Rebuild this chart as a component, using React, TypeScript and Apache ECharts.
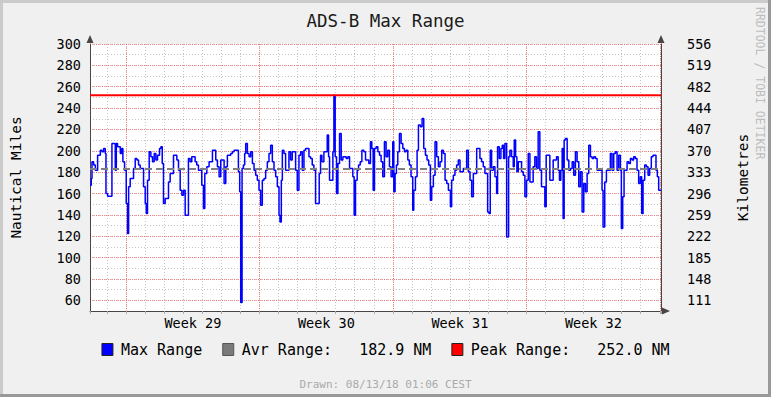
import React, { useEffect, useRef } from 'react';
import * as echarts from 'echarts';

const FONT = '"DejaVu Sans Mono", "Liberation Mono", monospace';

// x values: hours relative to Monday 2018-07-16 00:00 (start of ISO week 29)
const xStartHours = -45.2;
const xEndHours = 673.5;
const hoursPerDay = 24;
const hoursPerWeek = 168;
const weekNumbers = [29, 30, 31, 32];

const yMinNm = 50;
const yMaxNm = 300;
const nmToKm = 1.852;

const avgRangeNm = 182.9;
const peakRangeNm = 252.0;

const titleText = 'ADS-B Max Range';
const drawnText = 'Drawn: 08/13/18 01:06 CEST';
const watermarkText = 'RRDTOOL / TOBI OETIKER';
const seriesNames = ['Max Range', 'Avr Range:   182.9 NM', 'Peak Range:   252.0 NM'];

// [hours since week 29 start, max range in nautical miles]
const maxRangeSamples: [number, number][] = [
  [-45.2, 167.8], [-43.6, 174.1], [-42.7, 189.7], [-40.6, 186.6], [-38.5, 181.9], [-35.6, 195.9],
  [-32.2, 200.6], [-30.2, 199.1], [-28.1, 202.2], [-26.0, 197.5], [-25.1, 160], [-23.0, 157.5],
  [-17.6, 206.9], [-13.4, 181.9], [-12.1, 206.9], [-10.5, 203.8], [-7.1, 197.5], [-5.4, 202.2],
  [-3.8, 189.7], [-1.7, 181.9], [0.4, 150.7], [2.1, 122.5], [3.4, 166.3], [5.4, 174.1],
  [9.6, 183.5], [11.7, 192.8], [13.8, 191.3], [15.9, 186.6], [18.0, 183.5], [22.2, 166.3],
  [24.3, 150.7], [25.6, 141.3], [27.2, 172.5], [29.3, 199.1], [31.4, 194.4], [33.5, 189.7],
  [35.6, 197.5], [37.7, 191.3], [39.8, 195.9], [42.3, 202.2], [44.0, 203.8], [45.7, 188.2],
  [47.3, 150.7], [49.4, 155.3], [53.6, 170.9], [55.7, 178.8], [59.9, 195.9], [64.1, 191.3],
  [66.2, 181.9], [68.3, 163.1], [70.4, 158.4], [72.5, 163.1], [74.6, 139.7], [78.7, 192.8],
  [80.8, 189.7], [82.9, 194.4], [87.1, 189.7], [89.2, 186.6], [91.3, 181.9], [95.5, 167.8],
  [97.6, 146],
  [99.3, 178.8], [101.8, 185], [104.7, 189.7], [108.9, 200.6], [113.1, 191.3], [115.2, 185],
  [117.3, 175.6], [119.4, 191.3], [123.6, 169.4], [125.7, 185], [127.7, 195.9], [131.9, 197.5],
  [134.0, 199.1], [136.1, 200.6], [141.6, 180.3], [143.2, 161.6], [144.5, 58], [146.2, 183.5],
  [147.9, 186.6], [149.5, 197.5], [150.8, 206.9], [152.9, 197.5], [155.0, 194.4], [157.1, 199.1],
  [159.2, 188.2], [161.3, 181.9], [163.3, 177.2], [165.4, 172.5], [167.5, 163.1], [169.6, 149.1],
  [171.7, 172.5], [173.8, 174.1], [175.9, 181.9], [178.0, 189.7], [180.1, 197.5], [182.2, 205.3],
  [184.3, 189.7], [186.4, 181.9], [188.5, 175.6], [190.6, 166.3], [192.7, 139.7], [193.9, 133.4],
  [195.6, 172.5], [196.9, 200.6], [198.9, 197.5], [201.0, 181.9], [205.2, 199.1], [207.3, 191.3],
  [209.4, 199.1], [213.6, 181.9], [215.7, 163.1], [217.8, 195.9], [219.9, 199.1], [222.0, 181.9],
  [224.1, 200.6], [226.2, 202.2], [230.4, 194.4], [232.4, 192.8], [234.5, 186.6], [236.6, 181.9],
  [238.7, 150.7],
  [243.3, 178.8], [245.0, 195.9], [246.7, 189.7], [249.2, 199.1], [253.4, 214.7], [255.1, 194.4],
  [256.3, 172.5], [260.5, 199.1], [261.8, 252.0], [263.4, 194.4], [265.1, 160], [266.8, 188.2],
  [268.9, 216.3], [271.0, 191.3], [273.1, 194.4], [277.3, 192.8], [279.4, 194.4], [281.5, 183.5],
  [285.6, 175.6], [287.3, 139.7], [289.0, 172.5], [291.1, 181.9], [292.8, 186.6], [294.9, 189.7],
  [297.0, 200.6], [299.5, 199.1], [301.6, 191.3], [305.7, 188.2], [307.8, 208.4], [309.5, 202.2],
  [311.2, 163.1], [312.9, 202.2], [315.0, 203.8], [317.1, 199.1], [319.2, 195.9], [321.2, 189.7],
  [323.3, 175.6], [325.4, 208.4], [327.5, 194.4], [329.6, 200.6], [331.7, 185], [333.8, 175.6],
  [335.9, 208.4], [337.2, 161.6], [338.8, 178.8], [340.5, 186.6], [342.2, 199.1], [344.3, 216.3],
  [346.4, 206.9], [348.5, 202.2], [350.6, 199.1], [352.7, 200.6], [354.8, 191.3], [356.8, 186.6],
  [358.9, 175.6], [361.0, 144.4], [362.3, 163.1], [364.4, 175.6], [366.5, 200.6], [368.2, 224.1],
  [370.7, 222.5], [372.8, 230.3], [374.9, 202.2], [377.0, 195.9], [379.0, 191.3], [381.1, 186.6],
  [383.2, 153.8],
  [384.9, 166.3], [387.0, 177.2], [389.1, 208.4], [391.2, 194.4], [393.3, 185], [395.4, 189.7],
  [397.5, 200.6], [399.6, 197.5], [401.7, 172.5], [403.8, 169.4], [405.9, 163.1], [408.4, 147.5],
  [410.0, 172.5], [412.1, 177.2], [414.2, 181.9], [416.3, 186.6], [418.4, 191.3], [420.5, 180.3],
  [424.7, 183.5], [428.9, 200.6], [431.0, 180.3], [433.1, 172.5], [435.2, 156.9], [437.3, 178.8],
  [441.5, 202.2], [445.6, 192.8], [447.7, 189.7], [449.8, 185], [451.9, 178.8], [455.3, 142.8],
  [457.0, 141.3], [458.6, 200.6], [460.3, 181.9], [462.4, 185], [464.5, 175.6], [466.6, 160],
  [467.8, 203.8], [469.9, 192.8], [472.0, 202.2], [473.7, 205.3], [475.4, 192.8], [477.0, 206.9],
  [479.2, 119.4], [480.4, 119.4], [481.7, 194.4], [483.3, 200.6], [485.4, 194.4], [487.5, 185],
  [488.8, 210], [490.5, 194.4], [492.1, 180.3], [493.8, 189.7], [498.0, 180.3], [500.1, 177.2],
  [502.2, 156.9], [504.3, 172.5], [506.4, 197.5], [508.5, 170.9], [512.6, 185], [514.7, 194.4],
  [516.8, 183.5], [518.9, 217.8], [521.0, 181.9], [523.1, 166.3], [527.3, 147.5],
  [529.0, 195.9], [533.6, 172.5], [537.8, 191.3], [542.0, 194.4], [544.1, 181.9], [545.7, 172.5],
  [547.4, 181.9], [549.1, 202.2], [550.3, 136.6], [551.6, 210], [553.3, 211.6], [555.4, 191.3],
  [557.5, 181.9], [559.6, 183.5], [561.7, 189.7], [563.7, 177.2], [565.8, 199.1], [567.9, 189.7],
  [570.0, 166.3], [572.1, 180.3], [574.2, 142.8], [576.3, 169.4], [578.4, 161.6], [580.5, 178.8],
  [582.6, 205.3], [584.7, 194.4], [586.8, 192.8], [588.9, 194.4], [591.0, 192.8], [593.1, 181.9],
  [599.3, 163.1], [600.6, 128.7], [602.7, 170.9], [604.8, 181.9], [609.8, 197.5], [611.9, 181.9],
  [614.0, 197.5], [616.1, 199.1], [618.2, 181.9], [620.3, 195.9], [622.4, 181.9], [623.6, 127.2],
  [625.3, 156.9], [627.0, 181.9], [630.8, 189.7], [632.9, 188.2], [635.0, 192.8], [637.1, 191.3],
  [639.1, 194.4], [641.2, 192.8], [643.3, 181.9], [645.4, 169.4], [647.5, 175.6], [649.2, 141.3],
  [650.9, 172.5], [653.0, 186.6], [655.1, 185], [657.2, 177.2], [659.2, 183.5], [661.3, 194.4],
  [663.4, 195.9], [667.2, 181.9], [668.9, 175.6], [670.6, 163.1], [673.5, 163.1],
];

const GRID_MINOR = 'rgba(140,140,140,0.5)';
const GRID_MAJOR = 'rgba(255,40,40,0.5)';
const NONE = 'rgba(0,0,0,0)';
const AXIS_COLOR = '#4a4444';

// split-line colour lists; the axis boundaries (non-nice min/max) get an invisible line
function lineColors(count: number, color: string, hideFirst: boolean, hideLast: boolean) {
  return Array.from({ length: count }, (_, i) =>
    (hideFirst && i === 0) || (hideLast && i === count - 1) ? NONE : color,
  );
}

export default function App() {
  const ref = useRef<HTMLDivElement>(null);

  useEffect(() => {
    document.body.style.margin = '0';
    if (!ref.current) return;
    const chart = echarts.init(ref.current, undefined, { renderer: 'svg' });

    const dayTicks = Math.floor(xEndHours / hoursPerDay) - Math.ceil(xStartHours / hoursPerDay) + 1;
    const weekTicks = Math.floor(xEndHours / hoursPerWeek) - Math.ceil(xStartHours / hoursPerWeek) + 1;
    const kmTicks = Math.floor(yMaxNm / 20) - Math.ceil(yMinNm / 20) + 1;
    const nmTicks = Math.floor(yMaxNm / 10) - Math.ceil(yMinNm / 10) + 1;

    // frame axis: the plot border line with an arrow head at its end
    const frameAxisLine = {
      show: true,
      onZero: false,
      symbol: ['none', 'triangle'],
      symbolSize: [7, 8],
      symbolOffset: [0, 5],
      lineStyle: { color: AXIS_COLOR, width: 1 },
    };
    const hiddenAxisLine = { show: false, onZero: false };
    const bare = { axisTick: { show: false }, axisLabel: { show: false }, splitLine: { show: false } };
    const tickLabel = { fontFamily: FONT, fontSize: 13.5, color: '#000' };
    const xRange = { type: 'value', position: 'bottom', min: xStartHours, max: xEndHours };
    const yRange = { type: 'value', min: yMinNm, max: yMaxNm };

    const option: any = {
      animation: false,
      backgroundColor: '#f0f0f0',
      title: [
        {
          text: titleText,
          left: 'center',
          top: 7,
          textStyle: { fontFamily: FONT, fontSize: 17.5, fontWeight: 'normal', color: '#1a1a1a' },
        },
        {
          text: drawnText,
          left: 'center',
          top: 374,
          textStyle: { fontFamily: FONT, fontSize: 11, fontWeight: 'normal', color: '#aaaaaa' },
        },
      ],
      grid: {
        left: 89,
        right: 110,
        top: 44,
        bottom: 86,
        show: true,
        backgroundColor: '#ffffff',
        borderWidth: 0,
      },
      legend: {
        left: 'center',
        top: 337,
        icon: 'rect',
        itemWidth: 11,
        itemHeight: 12,
        itemGap: 20,
        textStyle: { fontFamily: FONT, fontSize: 15, color: '#000', padding: [0, 0, 0, 3] },
        data: [
          { name: seriesNames[0], itemStyle: { borderColor: '#222', borderWidth: 1 } },
          { name: seriesNames[1], itemStyle: { borderColor: '#555', borderWidth: 1 } },
          { name: seriesNames[2], itemStyle: { borderColor: '#222', borderWidth: 1 } },
        ],
      },
      xAxis: [
        {
          ...xRange,
          minInterval: hoursPerDay,
          maxInterval: hoursPerDay,
          axisLine: hiddenAxisLine,
          axisTick: { show: true, length: 3, lineStyle: { color: '#aaaaaa' } },
          axisLabel: { show: false },
          splitLine: {
            show: true,
            lineStyle: { color: lineColors(dayTicks + 2, GRID_MINOR, true, true), width: 1, type: [1, 2] },
          },
        },
        {
          ...xRange,
          minInterval: hoursPerWeek,
          maxInterval: hoursPerWeek,
          axisLine: hiddenAxisLine,
          axisTick: { show: false },
          axisLabel: {
            ...tickLabel,
            margin: 5,
            padding: [0, 0, 0, 134],
            formatter: (v: number) => {
              const idx = Math.round(v / hoursPerWeek);
              if (Math.abs(v - idx * hoursPerWeek) > 0.01) return '';
              const wk = weekNumbers[idx];
              return wk == null ? '' : 'Week ' + wk;
            },
          },
          splitLine: {
            show: true,
            lineStyle: { color: lineColors(weekTicks + 2, GRID_MAJOR, true, true), width: 1, type: [1, 1] },
          },
        },
        { ...xRange, axisLine: frameAxisLine, ...bare },
      ],
      yAxis: [
        {
          ...yRange,
          position: 'left',
          minInterval: 10,
          maxInterval: 10,
          name: 'Nautical Miles',
          nameLocation: 'middle',
          nameRotate: 90,
          nameGap: 67,
          nameTextStyle: { fontFamily: FONT, fontSize: 14.5, color: '#000' },
          axisLine: hiddenAxisLine,
          axisTick: { show: false },
          axisLabel: {
            ...tickLabel,
            margin: 9,
            formatter: (v: number) => (v % 20 === 0 ? String(v) : ''),
          },
          splitLine: {
            show: true,
            lineStyle: { color: lineColors(nmTicks, GRID_MINOR, true, false), width: 1, type: [1, 2] },
          },
        },
        {
          ...yRange,
          position: 'right',
          minInterval: 20,
          maxInterval: 20,
          name: 'Kilometres',
          nameLocation: 'middle',
          nameRotate: 90,
          nameGap: 74,
          nameTextStyle: { fontFamily: FONT, fontSize: 14.5, color: '#000' },
          axisLine: hiddenAxisLine,
          axisTick: { show: false },
          axisLabel: {
            ...tickLabel,
            margin: 26,
            formatter: (v: number) => (v % 20 === 0 ? String(Math.round(v * nmToKm)) : ''),
          },
          splitLine: {
            show: true,
            lineStyle: { color: lineColors(kmTicks + 1, GRID_MAJOR, true, false), width: 1, type: [1, 1] },
          },
        },
        { ...yRange, position: 'left', axisLine: frameAxisLine, ...bare },
        { ...yRange, position: 'right', axisLine: frameAxisLine, ...bare },
      ],
      series: [
        {
          name: seriesNames[0],
          type: 'line',
          step: 'end',
          xAxisIndex: 0,
          yAxisIndex: 0,
          showSymbol: false,
          color: '#0000ff',
          lineStyle: { color: '#0000ff', width: 1.5 },
          data: maxRangeSamples,
        },
        {
          name: seriesNames[1],
          type: 'line',
          xAxisIndex: 0,
          yAxisIndex: 0,
          showSymbol: false,
          color: '#7a7a7a',
          lineStyle: { color: '#808080', width: 2, type: [7, 4] },
          data: [
            [xStartHours, avgRangeNm],
            [xEndHours, avgRangeNm],
          ],
        },
        {
          name: seriesNames[2],
          type: 'line',
          xAxisIndex: 0,
          yAxisIndex: 0,
          showSymbol: false,
          color: '#ff0000',
          lineStyle: { color: '#ff0000', width: 1.8 },
          data: [
            [xStartHours, peakRangeNm],
            [xEndHours, peakRangeNm],
          ],
        },
      ],
      graphic: [
        {
          type: 'text',
          x: 766,
          y: 7,
          rotation: -Math.PI / 2,
          style: {
            text: watermarkText,
            fontFamily: FONT,
            fontSize: 11.5,
            fill: '#bdbdbd',
            align: 'left',
            verticalAlign: 'top',
          },
        },
        { type: 'rect', shape: { x: 0, y: 0, width: 771, height: 3 }, style: { fill: '#cbcbcb' } },
        { type: 'rect', shape: { x: 0, y: 0, width: 3, height: 397 }, style: { fill: '#cbcbcb' } },
        { type: 'rect', shape: { x: 0, y: 394, width: 771, height: 3 }, style: { fill: '#999999' } },
        { type: 'rect', shape: { x: 768, y: 0, width: 3, height: 397 }, style: { fill: '#999999' } },
      ],
    };

    chart.setOption(option);
    return () => chart.dispose();
  }, []);

  return <div ref={ref} style={{ width: 771, height: 397 }} />;
}
